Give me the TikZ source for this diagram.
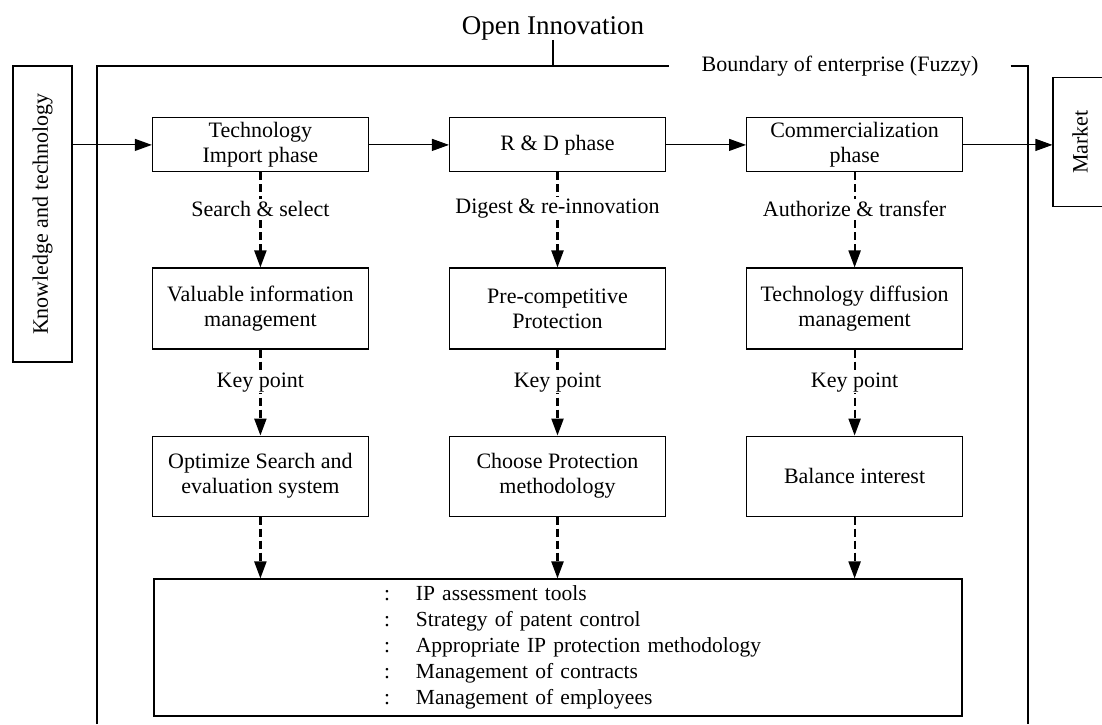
\documentclass[tikz,border=0pt]{standalone}
\usepackage{fontspec}
\setmainfont{Liberation Serif}
\usepackage{tikz}
\usetikzlibrary{arrows.meta}
\tikzstyle{stage}=[rectangle, line width=1.1pt, draw=black, minimum width=216pt, align=center, inner sep=2pt]
\tikzstyle{phase}=[stage, minimum height=54pt]
\tikzstyle{duty}=[stage, minimum height=81pt]
\tikzstyle{method}=[stage, minimum height=80pt]
\tikzstyle{dasharrow}=[->, line width=2.2pt, dash pattern=on 8pt off 4pt]
\tikzstyle{lbl}=[fill=white, inner sep=1.5pt, pos=0.38]

\begin{document}
\begin{tikzpicture}[x=1pt,y=-1pt,>={Triangle[length=17pt,width=12pt]},font=\fontsize{22pt}{25pt}\selectfont]
  \useasboundingbox (0,0) rectangle (1102,724);
  \matrix at (557.5,317) [row sep=86pt,column sep=80pt] {
    \node (P1) [phase] {Technology\\Import phase}; & \node (P2) [phase] {R \& D phase}; & \node (P3) [phase] {Commercialization\\phase}; \\[9pt]
    \node (M1) [duty] {Valuable information\\management}; & \node (M2) [duty] {Pre-competitive\\Protection}; & \node (M3) [duty] {Technology diffusion\\management}; \\
    \node (K1) [method] {Optimize Search and\\evaluation system}; & \node (K2) [method] {Choose Protection\\methodology}; & \node (K3) [method] {Balance interest}; \\
  };
  % enterprise boundary
  \node (title) at (553,34) [anchor=base, inner sep=0pt, font=\fontsize{27pt}{30pt}\selectfont] {Open Innovation};
  \node (bound) at (840,66) [fill=white, inner xsep=32pt, inner ysep=0pt] {Boundary of enterprise (Fuzzy)};
  \draw[line width=1.1pt] (97,724) |- (bound.west);
  \draw[line width=1.1pt] (bound.east) -| (1028,724);
  \draw[line width=1.1pt] (title.south) -- (title.south |- bound.west);
  \node (know) at (42.5,214) [stage, rotate=90, minimum width=296pt, minimum height=59pt] {Knowledge and technology};
  \node (market) at (1080,142) [stage, rotate=90, minimum width=129pt, minimum height=54pt] {Market};
  \node (tools) at (558,647.5) [stage, minimum width=808pt, minimum height=137pt, text width=800pt, align=left, font=\fontsize{21.5pt}{26pt}\selectfont]
    {\hspace*{226pt}\begin{tabular}{@{}l@{\hspace{26pt}}l@{}}
      : & IP assessment tools\\
      : & Strategy of patent control\\
      : & Appropriate IP protection methodology\\
      : & Management of contracts\\
      : & Management of employees
    \end{tabular}};
  \path[->,line width=1.1pt]
    (P1) edge (P2)
    (P2) edge (P3);
  \draw[->,line width=1.1pt] (know.south |- P1.west) -- (P1.west);
  \draw[->,line width=1.1pt] (P3.east) -- (P3.east -| market.north);
  \draw[dasharrow] (P1) -- node[lbl] {Search \& select} (M1);
  \draw[dasharrow] (P2) -- node[lbl] {Digest \& re-innovation} (M2);
  \draw[dasharrow] (P3) -- node[lbl] {Authorize \& transfer} (M3);
  \draw[dasharrow] (M1) -- node[lbl] {Key point} (K1);
  \draw[dasharrow] (M2) -- node[lbl] {Key point} (K2);
  \draw[dasharrow] (M3) -- node[lbl] {Key point} (K3);
  \draw[dasharrow] (K1) -- (K1 |- tools.north);
  \draw[dasharrow] (K2) -- (K2 |- tools.north);
  \draw[dasharrow] (K3) -- (K3 |- tools.north);
\end{tikzpicture}
\end{document}
